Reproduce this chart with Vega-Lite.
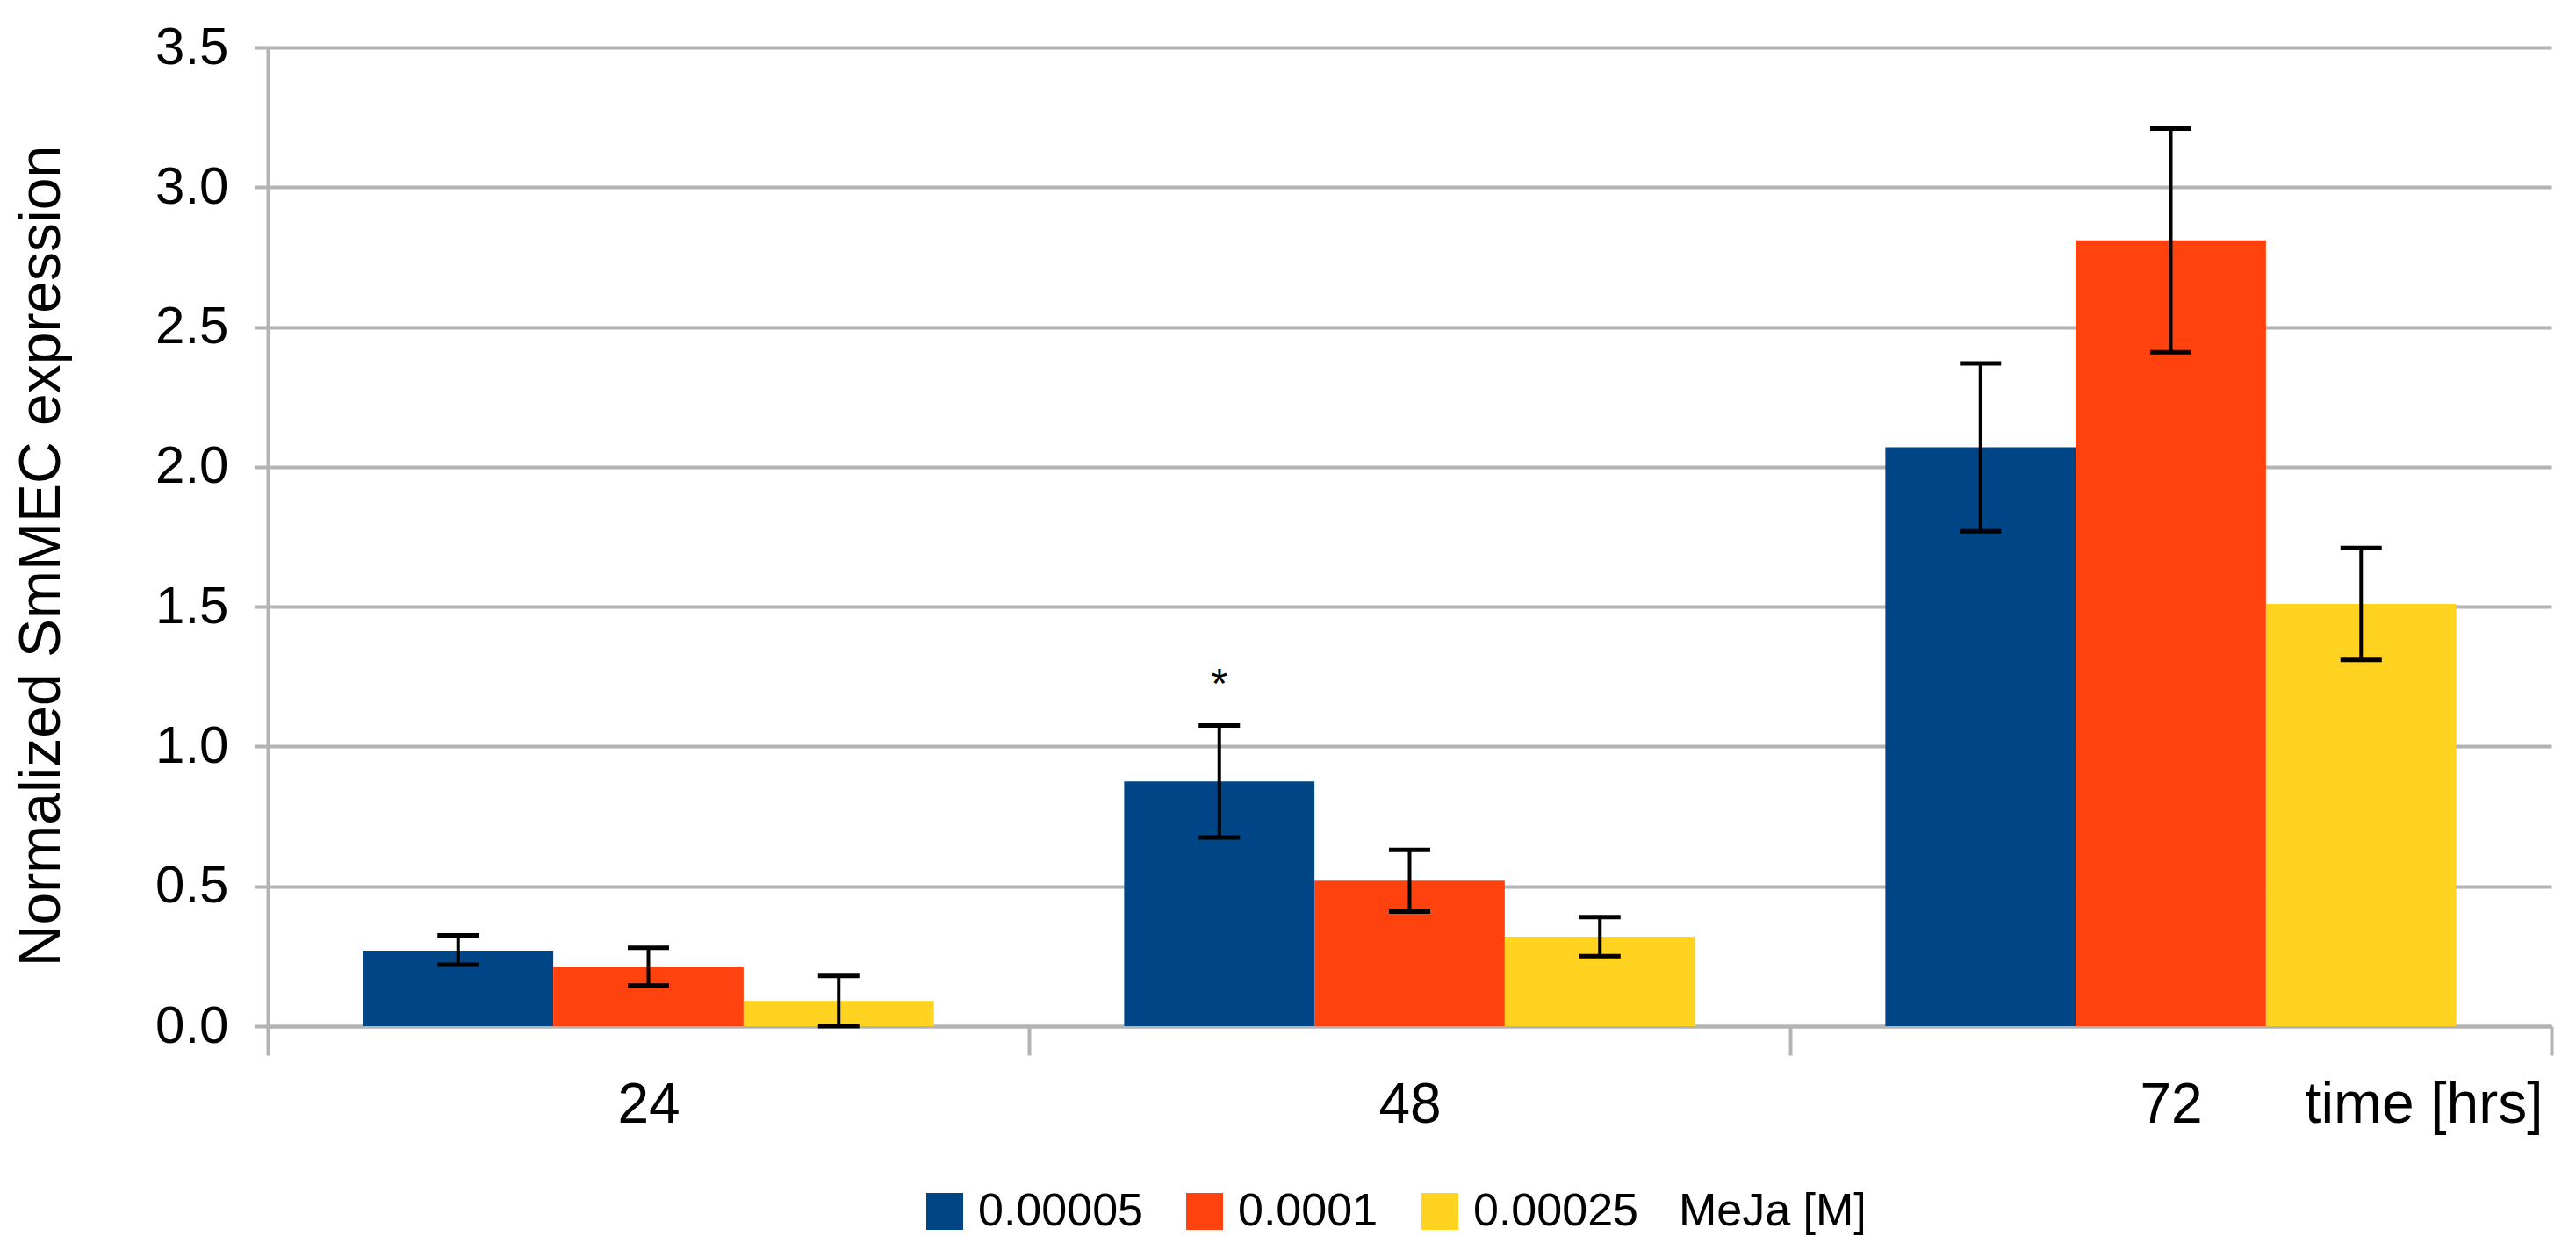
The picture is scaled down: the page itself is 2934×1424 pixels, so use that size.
{
  "$schema": "https://vega.github.io/schema/vega-lite/v6.json",
  "width": 2601,
  "height": 1115,
  "autosize": {"type": "none"},
  "padding": {"left": 305, "top": 54, "right": 28, "bottom": 255},
  "background": "white",
  "config": {"view": {"stroke": null}, "font": "Liberation Sans"},
  "data": {
    "values": [
      {"time": "24", "dose": "0.00005", "value": 0.27, "lo": 0.22, "hi": 0.325, "sig": ""},
      {"time": "24", "dose": "0.0001", "value": 0.21, "lo": 0.145, "hi": 0.28, "sig": ""},
      {"time": "24", "dose": "0.00025", "value": 0.09, "lo": 0.0, "hi": 0.18, "sig": ""},
      {"time": "48", "dose": "0.00005", "value": 0.875, "lo": 0.675, "hi": 1.075, "sig": "*"},
      {"time": "48", "dose": "0.0001", "value": 0.52, "lo": 0.41, "hi": 0.63, "sig": ""},
      {"time": "48", "dose": "0.00025", "value": 0.32, "lo": 0.25, "hi": 0.39, "sig": ""},
      {"time": "72", "dose": "0.00005", "value": 2.07, "lo": 1.77, "hi": 2.37, "sig": ""},
      {"time": "72", "dose": "0.0001", "value": 2.81, "lo": 2.41, "hi": 3.21, "sig": ""},
      {"time": "72", "dose": "0.00025", "value": 1.51, "lo": 1.31, "hi": 1.71, "sig": ""}
    ]
  },
  "encoding": {
    "x": {
      "field": "time",
      "type": "nominal",
      "sort": ["24", "48", "72"],
      "scale": {"paddingInner": 0, "paddingOuter": 0},
      "axis": {
        "title": "time [hrs]",
        "labelAngle": 0,
        "tickBand": "extent",
        "ticks": true,
        "tickSize": 33,
        "tickColor": "#b3b3b3",
        "tickWidth": 4,
        "domainColor": "#b3b3b3",
        "domainWidth": 4,
        "labelFontSize": 64,
        "labelColor": "black",
        "labelPadding": 25,
        "titleFontSize": 66,
        "titleFontWeight": "normal",
        "titleColor": "black",
        "titleX": 2591,
        "titleY": 109,
        "titleAlign": "right",
        "titleBaseline": "alphabetic"
      }
    },
    "xOffset": {
      "field": "dose",
      "type": "nominal",
      "sort": ["0.00005", "0.0001", "0.00025"],
      "scale": {"paddingInner": 0, "paddingOuter": 0.5}
    }
  },
  "layer": [
    {
      "mark": {"type": "bar"},
      "encoding": {
        "y": {
          "field": "value",
          "type": "quantitative",
          "title": "Normalized SmMEC expression",
          "scale": {"domain": [0, 3.5]},
          "axis": {
            "values": [0, 0.5, 1, 1.5, 2, 2.5, 3, 3.5],
            "format": ".1f",
            "labelFontSize": 60,
            "labelColor": "black",
            "labelPadding": 30,
            "tickSize": 15,
            "tickColor": "#b3b3b3",
            "tickWidth": 4,
            "grid": true,
            "gridColor": "#b3b3b3",
            "gridWidth": 4,
            "domainColor": "#b3b3b3",
            "domainWidth": 4,
            "titleFontSize": 66,
            "titleFontWeight": "normal",
            "titleColor": "black",
            "titleAngle": 270,
            "titleX": -238,
            "titleY": 579,
            "titleAlign": "center",
            "titleBaseline": "alphabetic"
          }
        },
        "color": {
          "field": "dose",
          "type": "nominal",
          "sort": ["0.00005", "0.0001", "0.00025"],
          "scale": {"domain": ["0.00005", "0.0001", "0.00025"], "range": ["#004586", "#ff420e", "#ffd320"]},
          "legend": {
            "title": "MeJa [M]",
            "orient": "none",
            "legendX": 745,
            "legendY": 1300,
            "direction": "horizontal",
            "titleOrient": "right",
            "symbolType": "square",
            "symbolSize": 1764,
            "symbolStrokeWidth": 0,
            "symbolOpacity": 1,
            "labelFont": "Liberation Sans",
            "labelFontSize": 52,
            "labelColor": "black",
            "labelOffset": 12,
            "labelLimit": 0,
            "columnPadding": 44,
            "titleFont": "Liberation Sans",
            "titleFontSize": 52,
            "titleFontWeight": "normal",
            "titleColor": "black",
            "titlePadding": 46,
            "titleLimit": 0
          }
        }
      }
    },
    {
      "mark": {"type": "rule", "color": "black", "strokeWidth": 4},
      "encoding": {
        "y": {"field": "lo", "type": "quantitative", "title": "Normalized SmMEC expression"},
        "y2": {"field": "hi"}
      }
    },
    {
      "mark": {"type": "tick", "color": "black", "thickness": 5, "size": 47, "orient": "horizontal", "opacity": 1},
      "encoding": {
        "y": {"field": "lo", "type": "quantitative", "title": "Normalized SmMEC expression"}
      }
    },
    {
      "mark": {"type": "tick", "color": "black", "thickness": 5, "size": 47, "orient": "horizontal", "opacity": 1},
      "encoding": {
        "y": {"field": "hi", "type": "quantitative", "title": "Normalized SmMEC expression"}
      }
    },
    {
      "transform": [{"filter": "datum.sig != ''"}],
      "mark": {"type": "text", "dy": -46, "fontSize": 48, "color": "black", "baseline": "middle", "align": "center"},
      "encoding": {
        "y": {"field": "hi", "type": "quantitative", "title": "Normalized SmMEC expression"},
        "text": {"field": "sig"}
      }
    }
  ]
}
